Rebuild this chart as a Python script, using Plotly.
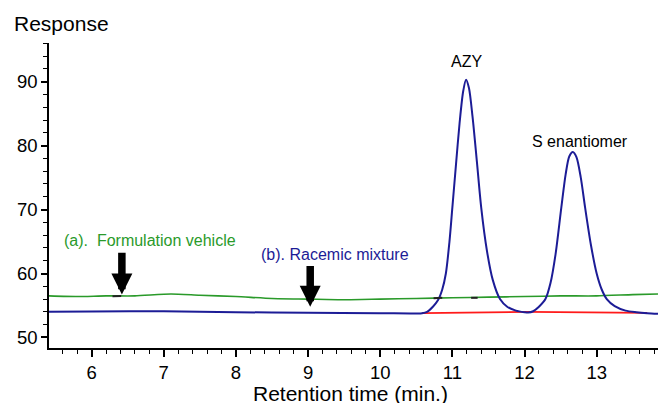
import plotly.graph_objects as go

# Blank formulation vehicle (green) trace
vehicle_t = [5.41, 5.8, 6.2, 6.6, 7.1, 7.5, 8.0, 8.5, 9.0, 9.5, 10.0, 10.5, 11.0, 11.5, 12.0, 12.5, 13.0, 13.5, 13.85]
vehicle_y = [56.5, 56.4, 56.5, 56.5, 56.8, 56.6, 56.4, 56.1, 56.0, 55.9, 56.0, 56.1, 56.2, 56.3, 56.4, 56.5, 56.5, 56.7, 56.8]

# Racemic mixture (blue) trace
racemic_t = [5.41, 6.0, 7.0, 8.0, 9.0, 10.0, 10.58, 10.65, 10.73, 10.8, 10.86, 10.91, 10.96, 11.0, 11.05, 11.1,
             11.15, 11.19, 11.23, 11.28, 11.34, 11.4, 11.48, 11.56, 11.66, 11.76, 11.88, 12.0, 12.05, 12.12,
             12.2, 12.29, 12.36, 12.43, 12.51, 12.57, 12.62, 12.67, 12.72, 12.78, 12.84, 12.92, 13.0, 13.07,
             13.14, 13.25, 13.4, 13.55, 13.7, 13.85]
racemic_y = [54.0, 54.05, 54.1, 53.95, 53.85, 53.8, 53.8, 54.0, 54.8, 55.8, 57.5, 60.0, 65.0, 70.3, 77.0, 83.5,
             88.5, 90.3, 89.0, 84.5, 77.5, 70.3, 63.5, 59.0, 56.0, 54.8, 54.2, 53.95, 53.9, 54.1,
             54.8, 56.0, 58.5, 63.0, 70.3, 75.5, 78.3, 79.0, 78.2, 75.0, 70.3, 64.5, 60.0, 57.5,
             56.0, 54.9, 54.2, 53.95, 53.8, 53.7]

# Integration baseline (red)
base_t = [10.58, 12.05, 13.7]
base_y = [53.8, 54.0, 53.85]

# Small black integration markers on the traces (None separates segments)
mark_t = [6.29, 6.41, None, 10.74, 10.86, None, 11.26, 11.35]
mark_y = [56.45, 56.5, None, 56.15, 56.2, None, 56.2, 56.2]

# Arrow positions
arrow_t = [6.42, 9.03]
arrow_tip = [56.7, 54.8]
arrow_top = [63.5, 61.4]

x_ticks = [6, 7, 8, 9, 10, 11, 12, 13]
y_ticks = [50, 60, 70, 80, 90]

GREEN = "#2a9a2a"
BLUE = "#1c1c96"
FONT = "Liberation Sans, Arial, sans-serif"

fig = go.Figure()
fig.add_trace(go.Scatter(x=vehicle_t, y=vehicle_y, mode="lines",
                         line=dict(color=GREEN, width=1.6, shape="spline", smoothing=0.6)))
fig.add_trace(go.Scatter(x=base_t, y=base_y, mode="lines",
                         line=dict(color="#ff1a1a", width=1.6)))
fig.add_trace(go.Scatter(x=racemic_t, y=racemic_y, mode="lines",
                         line=dict(color=BLUE, width=2, shape="spline", smoothing=0.8)))
fig.add_trace(go.Scatter(x=mark_t, y=mark_y, mode="lines", connectgaps=False,
                         line=dict(color="#222222", width=2)))

for t, tip, top in zip(arrow_t, arrow_tip, arrow_top):
    fig.add_annotation(x=t, y=tip, ax=t, ay=top, xref="x", yref="y", axref="x", ayref="y",
                       text="", showarrow=True, arrowhead=2, arrowwidth=7.5, arrowsize=0.56,
                       arrowcolor="black")

fig.add_annotation(x=5.59, y=65.1, text="(a).  Formulation vehicle", showarrow=False,
                   xanchor="left", yanchor="middle", font=dict(color=GREEN, size=16, family=FONT))
fig.add_annotation(x=8.32, y=62.9, text="(b). Racemic mixture", showarrow=False,
                   xanchor="left", yanchor="middle", font=dict(color=BLUE, size=16, family=FONT))
fig.add_annotation(x=11.19, y=93.1, text="AZY", showarrow=False, yanchor="middle",
                   font=dict(color="black", size=16, family=FONT))
fig.add_annotation(x=12.77, y=80.6, text="S enantiomer", showarrow=False, yanchor="middle",
                   font=dict(color="black", size=16, family=FONT))
fig.add_annotation(x=-37 / 609, y=(403 - 23.5 - 55) / 305, xref="paper", yref="paper", text="Response",
                   showarrow=False, xanchor="left", yanchor="middle",
                   font=dict(color="black", size=21, family=FONT))
fig.add_annotation(x=(350 - 49) / 609, y=-45 / 305, xref="paper", yref="paper",
                   text="Retention time (min.)", showarrow=False, xanchor="center", yanchor="middle",
                   font=dict(color="black", size=21, family=FONT))

fig.update_layout(
    width=658, height=403,
    margin=dict(l=49, r=0, t=43, b=55),
    plot_bgcolor="white", paper_bgcolor="white",
    showlegend=False,
    font=dict(family=FONT, color="black"),
)
fig.update_xaxes(range=[5.41, 13.85], tickvals=x_ticks, ticks="outside", ticklen=7, tickwidth=1.5,
                 tickcolor="black", showline=True, linecolor="black", linewidth=1.5,
                 showgrid=False, zeroline=False, tickfont=dict(size=18.5), automargin=False,
                 minor=dict(dtick=0.2, ticks="outside", ticklen=4, tickwidth=1.2, tickcolor="black",
                            showgrid=False))
fig.update_yaxes(range=[48.35, 96.05], tickvals=y_ticks, ticks="outside", ticklen=6, tickwidth=1.5,
                 tickcolor="black", showline=True, linecolor="black", linewidth=1.5,
                 showgrid=False, zeroline=False, tickfont=dict(size=18.5), automargin=False,
                 minor=dict(dtick=2, ticks="outside", ticklen=4, tickwidth=1.2, tickcolor="black",
                            showgrid=False))

fig.write_html("out.html", config={"displayModeBar": False},
               post_script="document.body.style.margin='0';")
